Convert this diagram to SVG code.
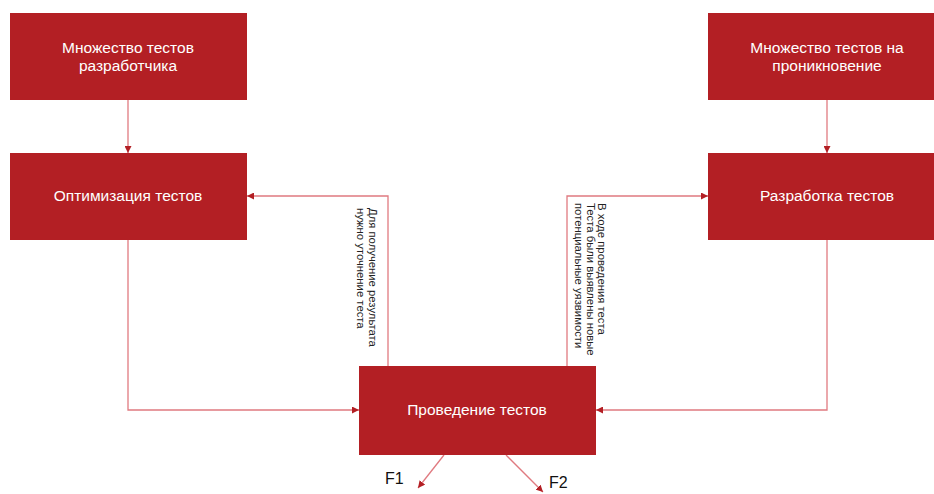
<svg xmlns="http://www.w3.org/2000/svg" width="934" height="494" viewBox="0 0 934 494">
<style>
.box{fill:#B31F24;}
.lbl{fill:#FFFFFF;font-family:"Liberation Sans",Arial,sans-serif;font-size:15.5px;text-anchor:middle;}
.note{fill:#222222;font-family:"Liberation Sans",Arial,sans-serif;font-size:11.3px;}
.out{fill:#111111;font-family:"Liberation Sans",Arial,sans-serif;font-size:16px;}
.con{fill:none;stroke:#E07A80;stroke-width:1.3;marker-end:url(#ah);}
</style>
<defs>
<marker id="ah" viewBox="0 0 10 10" refX="10" refY="5" markerWidth="7" markerHeight="7" markerUnits="userSpaceOnUse" orient="auto">
<path d="M0,0 L10,5 L0,10 z" fill="#B31F24"/>
</marker>
</defs>
<rect width="934" height="494" fill="#FFFFFF"/>
<g id="connectors">
<path class="con" d="M128,100 V153"/>
<path class="con" d="M827,100 V153"/>
<path class="con" d="M128,240 V410 H359"/>
<path class="con" d="M827,240 V410 H596"/>
<path class="con" d="M388,366 V196 H247"/>
<path class="con" d="M567,366 V196 H708"/>
<path class="con" d="M444,455 L418,488"/>
<path class="con" d="M506,455 L543,492"/>
<text class="note" transform="translate(369,208) rotate(90)">Для получение результата</text>
<text class="note" transform="translate(357,208) rotate(90)">нужно уточнение теста</text>
<text class="note" transform="translate(598,203) rotate(90)">В ходе проведения теста</text>
<text class="note" transform="translate(587,203) rotate(90)">Теста были выявлены новые</text>
<text class="note" transform="translate(575,203) rotate(90)">потенциальные уязвимости</text>
<text class="out" x="385" y="484">F1</text>
<text class="out" x="549" y="488">F2</text>
</g>
<g id="dev-tests">
<rect class="box" x="10" y="13" width="237" height="87"/>
<text class="lbl" x="128" y="53">Множество тестов</text>
<text class="lbl" x="128" y="71">разработчика</text>
</g>
<g id="pen-tests">
<rect class="box" x="708" y="13" width="238" height="87"/>
<text class="lbl" x="827" y="53">Множество тестов на</text>
<text class="lbl" x="827" y="71">проникновение</text>
</g>
<g id="optimization">
<rect class="box" x="10" y="153" width="237" height="87"/>
<text class="lbl" x="128" y="201">Оптимизация тестов</text>
</g>
<g id="development">
<rect class="box" x="708" y="153" width="238" height="87"/>
<text class="lbl" x="827" y="201">Разработка тестов</text>
</g>
<g id="execution">
<rect class="box" x="359" y="366" width="237" height="89"/>
<text class="lbl" x="477" y="415">Проведение тестов</text>
</g>
</svg>
